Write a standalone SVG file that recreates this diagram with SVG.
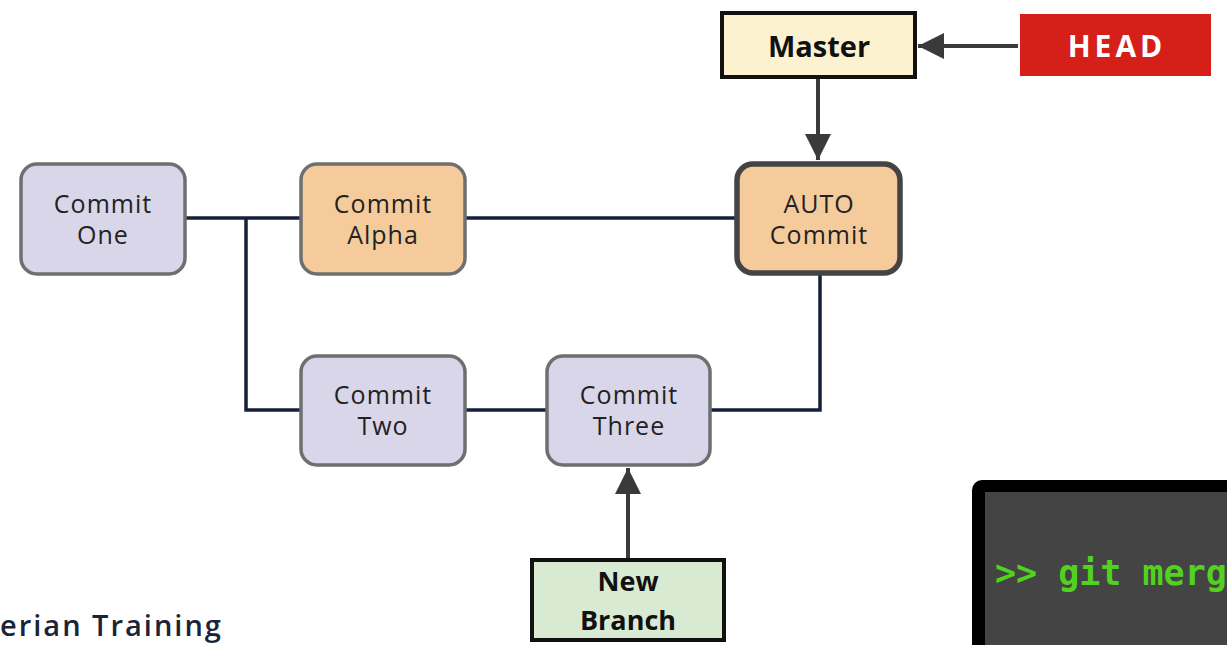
<svg xmlns="http://www.w3.org/2000/svg" width="1227" height="645" viewBox="0 0 1227 645">
<defs>
<style>
.commit{fill:#d9d6ea;stroke:#6f6f6f;stroke-width:3.5}
.alpha{fill:#f5cb9b;stroke:#6f6f6f;stroke-width:3.5}
.auto{fill:#f5cb9b;stroke:#444444;stroke-width:5.5}
.ct{font-family:"Open Sans","Liberation Sans",sans-serif;font-size:25px;letter-spacing:1px;fill:#222222;text-anchor:middle}
.bt{font-family:"Open Sans","Liberation Sans",sans-serif;font-weight:bold;font-size:29px;fill:#111111;text-anchor:middle}
.link{fill:none;stroke:#15203a;stroke-width:3.5}
.ptr{fill:none;stroke:#3a3a3a;stroke-width:4}
</style>
<marker id="arr" viewBox="0 0 10 10" refX="10" refY="5" markerWidth="7.5" markerHeight="6.5" markerUnits="strokeWidth" orient="auto">
<path d="M0,0 L10,5 L0,10 Z" fill="#3a3a3a"/>
</marker>
</defs>
<rect width="1227" height="645" fill="#ffffff"/>
<g id="connectors">
<path class="link" d="M185,218 H300"/>
<path class="link" d="M246,218 V410 H300"/>
<path class="link" d="M465,218 H736"/>
<path class="link" d="M465,410 H546"/>
<path class="link" d="M710,410 H820 V275"/>
<path class="ptr" d="M1018,46 H918" marker-end="url(#arr)"/>
<path class="ptr" d="M818,79 V160" marker-end="url(#arr)"/>
<path class="ptr" d="M628,558 V468" marker-end="url(#arr)"/>
</g>
<g id="commit-one">
<rect class="commit" x="21" y="164" width="164" height="110" rx="16"/>
<text class="ct" x="103" y="213">Commit</text>
<text class="ct" x="103" y="244">One</text>
</g>
<g id="commit-alpha">
<rect class="alpha" x="301" y="164" width="164" height="110" rx="16"/>
<text class="ct" x="383" y="213">Commit</text>
<text class="ct" x="383" y="244">Alpha</text>
</g>
<g id="auto-commit">
<rect class="auto" x="737" y="164" width="163" height="109" rx="16"/>
<text class="ct" x="819" y="213">AUTO</text>
<text class="ct" x="819" y="244">Commit</text>
</g>
<g id="commit-two">
<rect class="commit" x="301" y="356" width="164" height="109" rx="16"/>
<text class="ct" x="383" y="404">Commit</text>
<text class="ct" x="383" y="435">Two</text>
</g>
<g id="commit-three">
<rect class="commit" x="547" y="356" width="163" height="109" rx="16"/>
<text class="ct" x="629" y="404">Commit</text>
<text class="ct" x="629" y="435">Three</text>
</g>
<g id="master">
<rect x="722" y="13" width="193" height="64" fill="#fdf2cf" stroke="#111111" stroke-width="4"/>
<text class="bt" x="819" y="57">Master</text>
</g>
<g id="head">
<rect x="1020" y="14" width="191" height="62" fill="#d42019"/>
<text class="bt" x="1117" y="57" style="fill:#ffffff;letter-spacing:4px;font-size:30px">HEAD</text>
</g>
<g id="new-branch">
<rect x="532" y="560" width="192" height="80" fill="#d9ead3" stroke="#111111" stroke-width="4"/>
<text class="bt" x="628" y="591" style="font-size:27px">New</text>
<text class="bt" x="628" y="630" style="font-size:27px">Branch</text>
</g>
<g id="footer">
<text x="0" y="636" font-family="'Open Sans','Liberation Sans',sans-serif" font-size="29" font-weight="600" letter-spacing="2" fill="#1a2438">erian Training</text>
</g>
<g id="terminal">
<rect x="972" y="480" width="290" height="200" rx="10" fill="#000000"/>
<rect x="985" y="492" width="270" height="180" fill="#444444"/>
<text x="995" y="585" font-family="'DejaVu Sans Mono','Liberation Mono',monospace" font-weight="bold" font-size="35" fill="#52d11f">&gt;&gt; git merg</text>
</g>
</svg>
